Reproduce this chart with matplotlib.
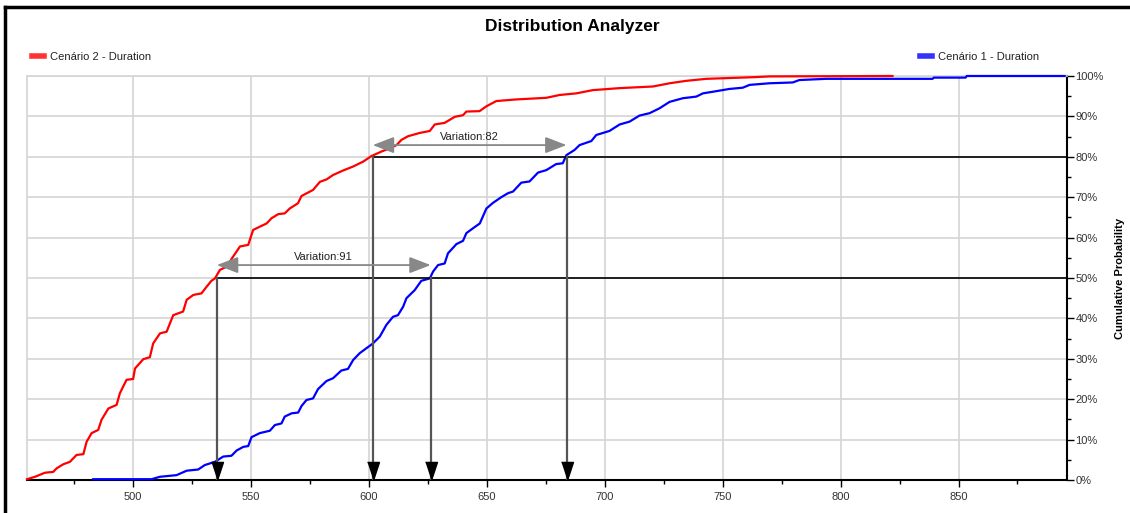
import matplotlib
matplotlib.use("Agg")
import matplotlib.pyplot as plt
from matplotlib.lines import Line2D
from matplotlib.ticker import MultipleLocator, FuncFormatter

plt.rcParams['font.family'] = ['Liberation Sans', 'DejaVu Sans']

# Cenário 2 - Duration (red): duration, cumulative %
c2_x = [455.0, 458.4, 462.6, 466.1, 467.6, 470.4, 473.2, 476.0, 478.9, 480.3, 482.4, 485.2,
        486.6, 489.5, 493.0, 494.4, 497.2, 500.0, 500.8, 504.3, 507.1, 508.5, 511.4, 514.2,
        517.0, 521.2, 522.7, 525.5, 529.0, 531.1, 533.2, 534.7, 536.8, 539.6, 542.4, 545.3,
        548.8, 550.9, 553.7, 556.6, 558.7, 561.5, 564.3, 566.4, 569.9, 571.4, 576.3, 579.2,
        582.0, 584.8, 589.0, 593.3, 597.5, 601.1, 605.3, 608.8, 611.7, 613.8, 616.6, 621.5,
        625.8, 627.9, 632.1, 636.4, 639.9, 641.3, 646.9, 649.8, 654.0, 662.5, 675.2, 680.8,
        687.9, 694.9, 706.3, 720.4, 727.5, 734.5, 743.0, 762.8, 770.0, 822.0]
c2_p = [0.2, 0.8, 1.8, 2.0, 2.9, 3.9, 4.5, 6.2, 6.4, 9.5, 11.6, 12.4,
        14.9, 17.7, 18.6, 21.5, 24.8, 25.0, 27.6, 29.9, 30.4, 33.8, 36.3, 36.7,
        40.8, 41.7, 44.6, 45.8, 46.2, 47.8, 49.3, 49.9, 52.0, 52.8, 55.3, 57.8,
        58.2, 61.9, 62.7, 63.5, 64.8, 65.8, 66.0, 67.2, 68.5, 70.3, 71.8, 73.8,
        74.4, 75.5, 76.6, 77.6, 78.8, 80.2, 81.3, 82.1, 82.9, 84.2, 85.1, 85.9,
        86.4, 88.0, 88.4, 89.9, 90.3, 91.2, 91.3, 92.5, 93.8, 94.2, 94.6, 95.3,
        95.7, 96.5, 97.0, 97.4, 98.2, 98.8, 99.3, 99.7, 99.9, 100.0]

# Cenário 1 - Duration (blue)
c1_x = [483.1, 507.8, 511.4, 518.4, 522.7, 527.6, 530.4, 534.7, 538.2, 541.7, 543.9, 546.7,
        548.8, 550.2, 553.7, 558.0, 560.1, 562.9, 564.3, 567.2, 570.0, 571.4, 573.5, 576.3,
        578.4, 582.0, 584.8, 588.3, 591.1, 593.3, 596.1, 598.9, 601.7, 604.6, 607.4, 610.2,
        612.3, 614.5, 615.9, 619.4, 622.2, 625.8, 627.2, 629.3, 632.1, 633.5, 637.1, 639.9,
        641.3, 644.1, 647.0, 649.8, 652.6, 656.1, 659.0, 661.1, 664.6, 668.1, 671.7, 675.2,
        679.4, 682.2, 683.7, 687.2, 689.3, 694.3, 696.4, 702.0, 706.3, 710.5, 714.7, 719.0,
        723.2, 727.5, 733.1, 738.8, 741.6, 745.8, 752.9, 758.5, 761.4, 769.8, 779.7, 782.5,
        793.9, 839.0, 839.5, 853.0, 853.5, 895.0]
c1_p = [0.2, 0.2, 0.8, 1.2, 2.3, 2.6, 3.7, 4.5, 5.8, 6.0, 7.3, 8.2,
        8.4, 10.6, 11.6, 12.2, 13.6, 14.0, 15.7, 16.5, 16.7, 18.3, 19.8, 20.2,
        22.5, 24.5, 25.2, 27.1, 27.5, 29.7, 31.4, 32.6, 33.8, 35.5, 38.4, 40.4,
        40.8, 42.9, 45.0, 47.0, 49.3, 49.9, 51.6, 53.2, 53.6, 56.1, 58.4, 59.2,
        61.1, 62.3, 63.5, 67.2, 68.6, 70.0, 71.0, 71.4, 73.6, 73.9, 76.1, 76.7,
        78.2, 78.4, 80.4, 81.7, 82.9, 83.9, 85.4, 86.4, 88.0, 88.7, 90.2, 90.8,
        92.0, 93.6, 94.5, 94.9, 95.7, 96.1, 96.8, 97.1, 97.8, 98.2, 98.4, 99.0,
        99.3, 99.3, 99.6, 99.6, 100.0, 100.0]

# percentile markers: (percentile, Cenário 2 value, Cenário 1 value)
pct_levels = [50, 80]
c2_marks = [535.5, 601.6]
c1_marks = [626.2, 683.8]
var_labels = ["Variation:91", "Variation:82"]
var_arrow_y = [53.2, 82.9]

W, H = 1130, 513
fig = plt.figure(figsize=(W / 100, H / 100), dpi=100)
ax = fig.add_axes([27 / W, 1 - 480 / H, (1067 - 27) / W, (480 - 76) / H])

ax.set_xlim(455, 896)
ax.set_ylim(0, 100)

ax.grid(True, which='major', color='#d4d4d4', lw=1.2, zorder=0)
ax.set_axisbelow(True)

ax.plot(c2_x, c2_p, color='#ff0000', lw=1.6, zorder=3, clip_on=False)
ax.plot(c1_x, c1_p, color='#0000ff', lw=1.6, zorder=3, clip_on=False)

xmax = ax.get_xlim()[1]
tip = [(-0.33, 1.0), (0.33, 1.0), (0.0, 0.0)]
for lvl, a, b, lab, ay in zip(pct_levels, c2_marks, c1_marks, var_labels, var_arrow_y):
    ax.plot([a, xmax], [lvl, lvl], color='black', lw=1.2, zorder=4)
    for v in (a, b):
        ax.plot([v, v], [0, lvl], color='#555555', lw=1.6, zorder=4)
        ax.plot([v], [0], marker=tip, markersize=26, color='black', ls='none',
                zorder=5, clip_on=False)
    ax.annotate('', xy=(b, ay), xytext=(a, ay),
                arrowprops=dict(arrowstyle='<|-|>,head_length=1.3,head_width=0.5',
                                color='#888888', lw=1.3, shrinkA=0, shrinkB=0,
                                mutation_scale=10), zorder=5)
    ax.text((a + b) / 2, ay + 0.8, lab, ha='center', va='bottom', fontsize=8,
            color='#222222', zorder=6)

# axes styling
ax.yaxis.tick_right()
ax.yaxis.set_label_position('right')
ax.xaxis.set_major_locator(MultipleLocator(50))
ax.xaxis.set_minor_locator(MultipleLocator(25))
ax.yaxis.set_major_locator(MultipleLocator(10))
ax.yaxis.set_minor_locator(MultipleLocator(5))
ax.yaxis.set_major_formatter(FuncFormatter(lambda v, p: f"{v:.0f}%"))
narrow = ['Liberation Sans Narrow', 'Liberation Sans', 'DejaVu Sans']
ax.tick_params(which='major', length=5, width=1, color='black', labelsize=8,
               labelcolor='#333333')
ax.tick_params(which='minor', length=3, width=1, color='black')
ax.tick_params(axis='y', which='both', left=False, right=True, pad=1)
for lab in ax.get_xticklabels() + ax.get_yticklabels():
    lab.set_family(narrow)
for s in ('left', 'top'):
    ax.spines[s].set_color('#d4d4d4')
    ax.spines[s].set_linewidth(1.2)
for s in ('right', 'bottom'):
    ax.spines[s].set_color('black')
    ax.spines[s].set_linewidth(1.5)
ax.set_ylabel('Cumulative Probability', fontsize=8, fontweight='bold', labelpad=8)

fig.text(572 / W, 1 - 27 / H, 'Distribution Analyzer', ha='center', va='center',
         fontsize=12.5, fontweight='bold')

# legends at the top corners
h2 = Line2D([], [], color='#ff3333', lw=4)
h1 = Line2D([], [], color='#3333ff', lw=4)
leg2 = fig.legend([h2], ['Cenário 2 - Duration'], loc='center left',
                  bbox_to_anchor=(32 / W, 1 - 57 / H), frameon=False, fontsize=8,
                  handlelength=1.1, handletextpad=0.5, borderpad=0, borderaxespad=0)
leg1 = fig.legend([h1], ['Cenário 1 - Duration'], loc='center left',
                  bbox_to_anchor=(920 / W, 1 - 57 / H), frameon=False, fontsize=8,
                  handlelength=1.1, handletextpad=0.5, borderpad=0, borderaxespad=0)
for lg in (leg1, leg2):
    for t in lg.get_texts():
        t.set_family(narrow)
        t.set_color('#222222')

# outer frame (left and top edges)
fig.add_artist(Line2D([5 / W, 5 / W], [0, 1 - 7 / H], color='black', lw=2.5,
                      transform=fig.transFigure))
fig.add_artist(Line2D([5 / W, 1], [1 - 7 / H, 1 - 7 / H], color='black', lw=2.5,
                      transform=fig.transFigure))

fig.savefig('out.png', dpi=100)
